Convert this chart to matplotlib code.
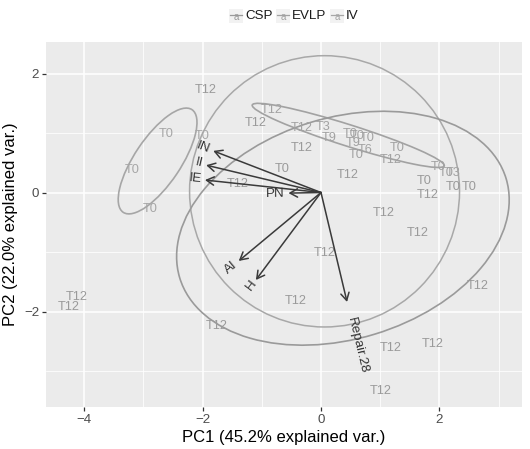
import numpy as np
import matplotlib.pyplot as plt
from matplotlib.patches import Ellipse, Rectangle
from matplotlib.lines import Line2D

plt.rcParams['font.family'] = ['Liberation Sans', 'DejaVu Sans']

# sample scores on PC1 / PC2, with their time-point labels and group
obs_label = ['T12', 'T0', 'T0', 'T0', 'T0',
             'T12', 'T12', 'T12', 'T3', 'T9', 'T12',
             'T0', 'T0', 'T0', 'T9', 'T6', 'T0', 'T0', 'T12', 'T12',
             'T0', 'T0', 'T3', 'T0', 'T0', 'T0', 'T12', 'T0', 'T12',
             'T12', 'T12', 'T12', 'T12', 'T12', 'T12', 'T12', 'T12',
             'T12', 'T12', 'T12']
obs_pc1 = [-1.94, -2.62, -2.01, -3.19, -2.89,
           -0.83, -1.11, -0.32, 0.03, 0.14, -0.32,
           0.49, 0.61, 0.78, 0.54, 0.74, 0.59, 1.28, 1.17, 0.46,
           1.98, 2.11, 2.23, 1.74, 2.23, 2.50, 1.81, -0.66, -1.40,
           1.06, 1.64, 0.07, 2.64, -0.42, -4.12, -4.26, -1.76,
           1.17, 1.88, 1.01]
obs_pc2 = [1.72, 0.98, 0.95, 0.38, -0.28,
           1.39, 1.17, 1.08, 1.10, 0.92, 0.75,
           0.98, 0.95, 0.92, 0.83, 0.71, 0.63, 0.75, 0.55, 0.29,
           0.43, 0.33, 0.33, 0.19, 0.09, 0.09, -0.04, 0.39, 0.14,
           -0.34, -0.68, -1.02, -1.57, -1.82, -1.75, -1.92, -2.24,
           -2.61, -2.55, -3.34]
obs_group = ['CSP', 'IV', 'IV', 'IV', 'IV',
             'EVLP', 'CSP', 'EVLP', 'EVLP', 'EVLP', 'CSP',
             'EVLP', 'EVLP', 'EVLP', 'EVLP', 'EVLP', 'EVLP', 'EVLP', 'EVLP', 'CSP',
             'EVLP', 'EVLP', 'EVLP', 'CSP', 'CSP', 'CSP', 'CSP', 'CSP', 'CSP',
             'CSP', 'CSP', 'CSP', 'CSP', 'CSP', 'CSP', 'CSP', 'CSP',
             'CSP', 'CSP', 'CSP']

groups = ['CSP', 'EVLP', 'IV']
group_color = {'CSP': '#9a9a9a', 'EVLP': '#a2a2a2', 'IV': '#a6a6a6'}

# variable loadings (arrows)
var_names = ['IN', 'II', 'IE', 'PN', 'AI', 'H', 'Repair.28']
var_pc1 = [-1.82, -1.94, -1.96, -0.55, -1.39, -1.10, 0.44]
var_pc2 = [0.70, 0.46, 0.21, -0.01, -1.15, -1.47, -1.84]

# group ellipses: centre, semi-axes, angle (deg)
ell_group = ['IV', 'EVLP', 'CSP']
ell_cx = [-2.76, 0.46, 0.37]
ell_cy = [0.53, 0.96, -0.60]
ell_a = [1.04, 1.70, 2.88]
ell_b = [0.39, 0.18, 1.86]
ell_angle = [56, -17.5, 16.8]

circle_r = 2.28

fig = plt.figure(figsize=(5.3, 4.49), dpi=100)
ax = fig.add_axes([46/530, 42/449, 476/530, 365/449])
ax.set_facecolor('#EBEBEB')
ax.set_xlim(-4.645, 3.395)
ax.set_ylim(-3.605, 2.53)
ax.set_xticks([-4, -2, 0, 2])
ax.set_yticks([-2, 0, 2])
ax.set_xticks([-3, -1, 1, 3], minor=True)
ax.set_yticks([-3, -1, 1], minor=True)
ax.grid(which='major', color='white', lw=1.1)
ax.grid(which='minor', color='white', lw=0.55)
ax.set_axisbelow(True)
for s in ax.spines.values():
    s.set_visible(False)
ax.tick_params(which='major', length=3, width=0.9, color='#333333',
               labelcolor='#4D4D4D', labelsize=9.6, pad=2)
ax.tick_params(which='minor', length=0)

# correlation circle
ax.add_patch(Ellipse((0.06, 0.02), 2*circle_r, 2*circle_r, fill=False,
                     edgecolor='#a8a8a8', lw=1.1))

for g, cx, cy, a, b, ang in zip(ell_group, ell_cx, ell_cy, ell_a, ell_b, ell_angle):
    ax.add_patch(Ellipse((cx, cy), 2*a, 2*b, angle=ang, fill=False,
                         edgecolor=group_color[g], lw=1.2))

for lab, x, y, g in zip(obs_label, obs_pc1, obs_pc2, obs_group):
    ax.text(x, y, lab, color=group_color[g], fontsize=9.2,
            ha='center', va='center')

for name, vx, vy in zip(var_names, var_pc1, var_pc2):
    ax.annotate('', xy=(vx, vy), xytext=(0, 0),
                arrowprops=dict(arrowstyle='->,head_length=0.45,head_width=0.25',
                                color='#3a3a3a', lw=1.1, mutation_scale=12,
                                shrinkA=0, shrinkB=0))
    ang = np.degrees(np.arctan(vy / vx))
    n = np.hypot(vx, vy)
    off = 0.25 * 0.55 * 9.6 * len(name)
    ax.annotate(name, xy=(vx, vy), xytext=(vx / n * off, vy / n * off),
                textcoords='offset points', rotation=ang, rotation_mode='anchor',
                ha='right' if vx < 0 else 'left', va='center',
                fontsize=9.6, color='#333333')

ax.set_xlabel('PC1 (45.2% explained var.)', fontsize=12, color='black', labelpad=3)
ax.set_ylabel('PC2 (22.0% explained var.)', fontsize=12, color='black', labelpad=4)

# legend on top
key_x = [236, 283, 337]
ly = 1 - 16 / 449
for g, kx in zip(groups, key_x):
    fig.add_artist(Rectangle(((kx - 7) / 530, ly - 7 / 449), 14 / 530, 14 / 449,
                             transform=fig.transFigure, facecolor='#F2F2F2',
                             edgecolor='none'))
    fig.add_artist(Line2D([(kx - 6) / 530, (kx + 6) / 530], [ly + 1 / 449, ly + 1 / 449],
                          transform=fig.transFigure, color=group_color[g], lw=0.9))
    fig.text(kx / 530, ly - 1 / 449, 'a', ha='center', va='center', fontsize=7,
             color=group_color[g])
    fig.text((kx + 9) / 530, ly, g, ha='left', va='center', fontsize=9.6,
             color='#1a1a1a')

fig.savefig('out.png', dpi=100)
